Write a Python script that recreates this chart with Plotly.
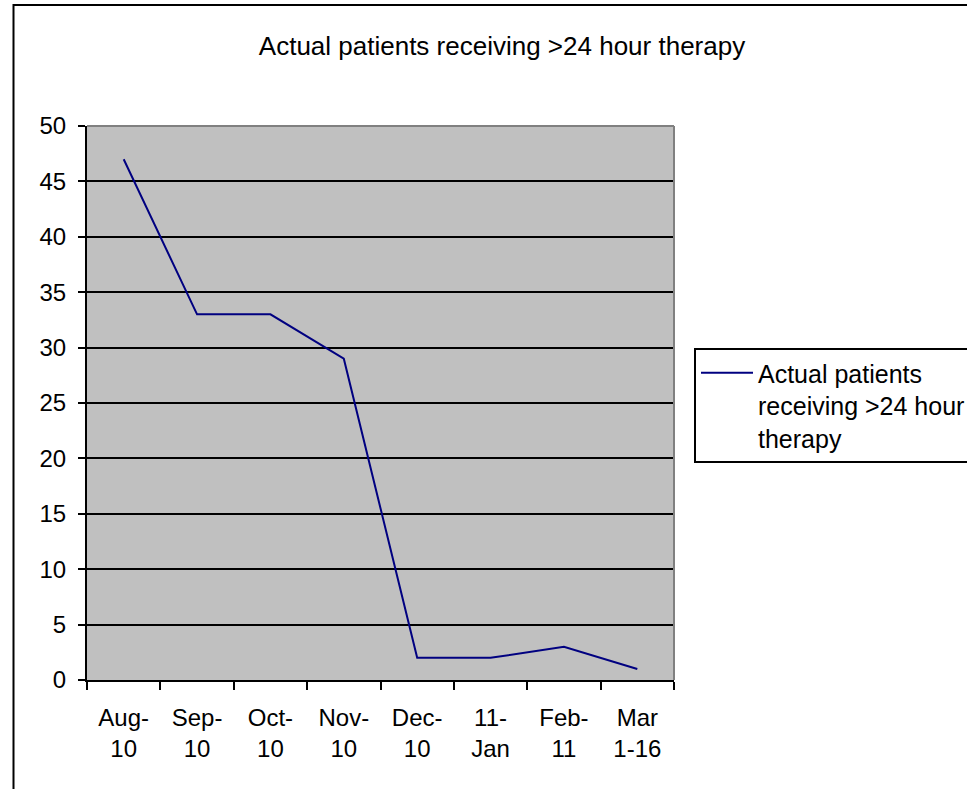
import plotly.graph_objects as go

categories = ["Aug-<br>10", "Sep-<br>10", "Oct-<br>10", "Nov-<br>10", "Dec-<br>10", "11-<br>Jan", "Feb-<br>11", "Mar<br>1-16"]
values = [47, 33, 33, 29, 2, 2, 3, 1]
series_name = "Actual patients<br>receiving >24 hour<br>therapy"
title_text = "Actual patients receiving >24 hour therapy"
y_ticks = [0, 5, 10, 15, 20, 25, 30, 35, 40, 45, 50]

W, H = 967, 789
L, R, T, B = 87, 674, 126, 680
pw, ph = R - L, B - T

def px_x(x):
    return (x - L) / pw

def px_y(y):
    return (B - y) / ph

FONT = "Liberation Sans, Arial, sans-serif"

fig = go.Figure()
fig.add_trace(go.Scatter(
    x=categories, y=values, mode="lines", name=series_name,
    line=dict(color="#000080", width=2),
))

fig.update_layout(
    width=W, height=H,
    margin=dict(l=L, r=W - R, t=T, b=H - B, autoexpand=False),
    paper_bgcolor="white",
    plot_bgcolor="#C0C0C0",
    font=dict(family=FONT, color="black", size=24),
    title=dict(text=title_text, x=(258 + 746) / 2 / W, xanchor="center",
               y=1 - 46 / H, yanchor="middle",
               font=dict(size=26, family=FONT, color="black")),
    showlegend=True,
    legend=dict(
        x=px_x(694), xanchor="left", y=px_y(348), yanchor="top",
        bordercolor="black", borderwidth=2, bgcolor="white",
        font=dict(size=25, family=FONT, color="black"),
        itemwidth=52, valign="top",
    ),
    xaxis=dict(
        type="category", range=[-0.5, len(categories) - 0.5],
        showgrid=False, showline=True, linecolor="black", linewidth=2,
        ticks="outside", tickson="boundaries", ticklen=8, tickwidth=2, tickcolor="black",
        tickfont=dict(size=24, family=FONT, color="black"),
        ticklabelstandoff=15,
        fixedrange=True,
    ),
    yaxis=dict(
        range=[0, 50], tickvals=y_ticks,
        showgrid=True, gridcolor="black", gridwidth=1.5,
        showline=True, linecolor="black", linewidth=2,
        ticks="outside", ticklen=7, tickwidth=2, tickcolor="black",
        tickfont=dict(size=24, family=FONT, color="black"),
        ticklabelstandoff=7,
        zeroline=False, fixedrange=True,
    ),
)

# gray top & right border of plot area
fig.add_shape(type="line", xref="paper", yref="paper", x0=0, x1=1, y0=1, y1=1,
              line=dict(color="#808080", width=2), layer="above")
fig.add_shape(type="line", xref="paper", yref="paper", x0=1, x1=1, y0=0, y1=1,
              line=dict(color="#808080", width=2), layer="above")
# outer chart frame
fig.add_shape(type="rect", xref="paper", yref="paper",
              x0=px_x(13.5), x1=px_x(W + 20), y0=px_y(H + 20), y1=px_y(5),
              line=dict(color="black", width=2), layer="below")

fig.write_html(
    "out.html",
    config={"displayModeBar": False},
    post_script="document.body.style.margin='0';document.body.style.overflow='hidden';",
)
